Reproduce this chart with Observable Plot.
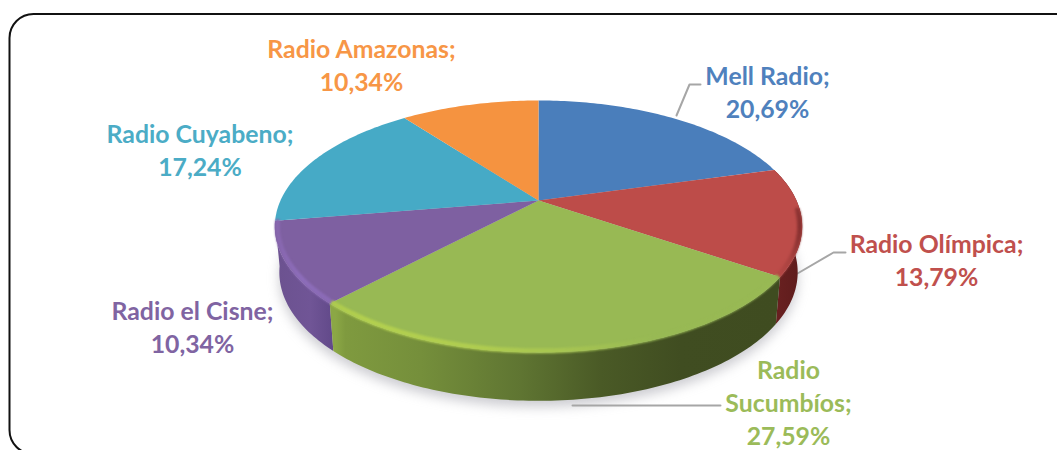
<!DOCTYPE html>
<html>
<head>
<meta charset="utf-8">
<style>
html,body{margin:0;padding:0;background:#fff;overflow:hidden}
svg{display:block}
</style>
<script src="https://cdn.jsdelivr.net/npm/d3@7"></script>
<script src="https://cdn.jsdelivr.net/npm/@observablehq/plot@0.6"></script>
</head>
<body>
<script>
// Data
const stations = ["Mell Radio", "Radio Olímpica", "Radio Sucumbíos", "Radio el Cisne", "Radio Cuyabeno", "Radio Amazonas"];
const shares = [20.69, 13.79, 27.59, 10.34, 17.24, 10.34];
const topColors = ["#4a7ebb", "#bd4c49", "#98b954", "#7e60a1", "#46aac6", "#f59340"];
const labelColors = ["#4f81bd", "#c0504d", "#9bbb59", "#8064a2", "#4bacc6", "#f79646"];
const labelLines = [["Mell Radio;"], ["Radio Olímpica;"], ["Radio", "Sucumbíos;"], ["Radio el Cisne;"], ["Radio Cuyabeno;"], ["Radio Amazonas;"]];
const labelX = [767, 936, 788, 192, 199.5, 361];
const labelY = [77, 245, 371, 312, 135, 50];
const leaders = [
  [[676, 115], [689, 84], [700, 84]],
  [[797, 273], [833, 252], [845, 252]],
  [[572, 405], [720, 405]]
];

// Projection of the tilted disc
const cx = 538, cy = 200, A = 258, B = 120.6, P = 0.206;
const rim = (deg, k = 1, drop = 0) => {
  const t = deg * Math.PI / 180, u = Math.sin(t), v = Math.cos(t), w = 1 + P * v;
  return { x: cx + k * A * u / w, y: cy - k * B * v / w + drop * (45 - 6 * v) };
};
const total = d3.sum(shares);
const ends = Array.from(d3.cumsum(shares), s => s / total * 360);
const starts = ends.map((e, i) => i ? ends[i - 1] : 0);
const arc = (a, b, f) => d3.range(0, 1.0001, 1 / Math.max(2, Math.ceil(b - a))).map(q => f(a + (b - a) * q));

const topFace = i => [{ x: cx, y: cy }, ...arc(starts[i], ends[i], d => rim(d))];
const wall = i => [...arc(starts[i], ends[i], d => rim(d)), ...arc(starts[i], ends[i], d => rim(d, 0.983, 1)).reverse()];
const lowerDisc = d3.range(0, 361, 2).map(d => rim(d, 0.983, 1));

// Gradients (colour stops along the horizontal of the picture)
const wallStops = {
  1: [[760, "#702323"], [800, "#5e1c1c"]],
  2: [[335, "#8ba745"], [345, "#7f9a3f"], [420, "#758f3b"], [520, "#5f7532"], [600, "#4a5a26"], [680, "#404d21"], [775, "#3f4c20"]],
  3: [[278, "#6c5290"], [310, "#705596"], [335, "#604888"]]
};
const rimStops = {
  1: [[770, "#bd4c49"], [790, "#a94240"], [803, "#7a2a2a"]],
  2: [[335, "#aecb4e"], [370, "#b3d04f"], [470, "#b0cd50"], [570, "#a6c452"], [650, "#98b954"], [775, "#98b954"]],
  3: [[275, "#8766ad"], [300, "#8d6dba"], [335, "#8a6ab5"]]
};
const gradient = (id, stops) => {
  const g = document.createElementNS("http://www.w3.org/2000/svg", "linearGradient");
  g.setAttribute("id", id);
  g.setAttribute("gradientUnits", "userSpaceOnUse");
  g.setAttribute("x1", 0); g.setAttribute("x2", 1057); g.setAttribute("y1", 0); g.setAttribute("y2", 0);
  stops.forEach(([x, c]) => {
    const s = document.createElementNS("http://www.w3.org/2000/svg", "stop");
    s.setAttribute("offset", x / 1057);
    s.setAttribute("stop-color", c);
    g.appendChild(s);
  });
  return g;
};
const defsMark = () => {
  const d = document.createElementNS("http://www.w3.org/2000/svg", "defs");
  Object.entries(wallStops).forEach(([i, s]) => d.appendChild(gradient("wall" + i, s)));
  Object.entries(rimStops).forEach(([i, s]) => d.appendChild(gradient("rim" + i, s)));
  return d;
};

const poly = (pts, fill, extra = {}) =>
  Plot.line(pts, { x: d => d.x, y: d => d.y, fill, stroke: "none", ...extra });

const labelRows = [];
stations.forEach((s, i) => {
  const rows = [...labelLines[i], shares[i].toFixed(2).replace(".", ",") + "%"];
  rows.forEach((t, r) => labelRows.push({ t, x: labelX[i], y: labelY[i] + r * 33, c: labelColors[i] }));
});

const chart = Plot.plot({
  width: 1057,
  height: 450,
  margin: 0,
  x: { domain: [0, 1057], range: [0, 1057], axis: null },
  y: { domain: [0, 450], range: [0, 450], axis: null },
  style: { background: "#fff" },
  marks: [
    defsMark,
    Plot.rect([{ x1: 9.5, x2: 1095, y1: 14, y2: 454 }], {
      x1: "x1", x2: "x2", y1: "y1", y2: "y2", rx: 24, ry: 24, fill: "#fff", stroke: "#111", strokeWidth: 2
    }),
    poly(lowerDisc.map(p => ({ x: p.x, y: p.y + 6 })), "#8e8e9a", { fillOpacity: 0.45 }),
    ...leaders.map(l => Plot.line(l, { x: d => d[0], y: d => d[1], stroke: "#a6a6a6", strokeWidth: 2 })),
    ...[3, 1, 2].map(i => poly(wall(i), `url(#wall${i})`)),
    ...stations.map((s, i) => poly(topFace(i), topColors[i])),
    ...[1, 3, 2].map(i =>
      Plot.line(arc(starts[i] + (i === 1 ? 20 : 0.5), ends[i] - 0.5, d => rim(d, 0.99)), {
        x: d => d.x, y: d => d.y, stroke: `url(#rim${i})`, strokeWidth: 5
      })),
    Plot.text(labelRows, {
      x: "x", y: "y", text: "t", fill: "c", textAnchor: "middle", lineAnchor: "middle",
      fontFamily: "Lato", fontWeight: 700, fontSize: 24.8
    })
  ]
});
document.body.appendChild(chart);
chart.querySelectorAll('[fill="#8e8e9a"]').forEach(g => g.style.filter = "blur(6px)");
chart.querySelectorAll('[stroke^="url(#rim"]').forEach(g => g.style.filter = "blur(1.2px)");
</script>
</body>
</html>
